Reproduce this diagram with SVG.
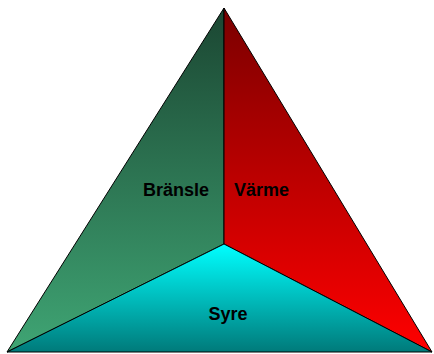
<svg xmlns="http://www.w3.org/2000/svg" width="434" height="354" viewBox="0 0 434 354">
<defs>
<linearGradient id="gGreen" x1="0" y1="8" x2="0" y2="352" gradientUnits="userSpaceOnUse"><stop offset="0" stop-color="#1b4632"/><stop offset="1" stop-color="#3fa574"/></linearGradient>
<linearGradient id="gRed" x1="0" y1="8" x2="0" y2="352" gradientUnits="userSpaceOnUse"><stop offset="0" stop-color="#7a0000"/><stop offset="1" stop-color="#ff0000"/></linearGradient>
<linearGradient id="gCyan" x1="0" y1="244" x2="0" y2="352" gradientUnits="userSpaceOnUse"><stop offset="0" stop-color="#00ffff"/><stop offset="1" stop-color="#007a7a"/></linearGradient>
</defs>
<style>
.face{stroke:#000;stroke-width:1;stroke-linejoin:miter}
.lbl{font-family:"Liberation Sans",Arial,sans-serif;font-weight:bold;font-size:18px;fill:#000}
</style>
<g id="bransle"><polygon class="face" fill="url(#gGreen)" points="224,8 224,244 7,352"/><text class="lbl" x="176" y="196" text-anchor="middle">Bränsle</text></g>
<g id="varme"><polygon class="face" fill="url(#gRed)" points="224,8 432,352 224,244"/><text class="lbl" x="234" y="196">Värme</text></g>
<g id="syre"><polygon class="face" fill="url(#gCyan)" points="224,244 432,352 7,352"/><text class="lbl" x="228" y="320" text-anchor="middle">Syre</text></g>
<g id="connectors"></g>
</svg>
